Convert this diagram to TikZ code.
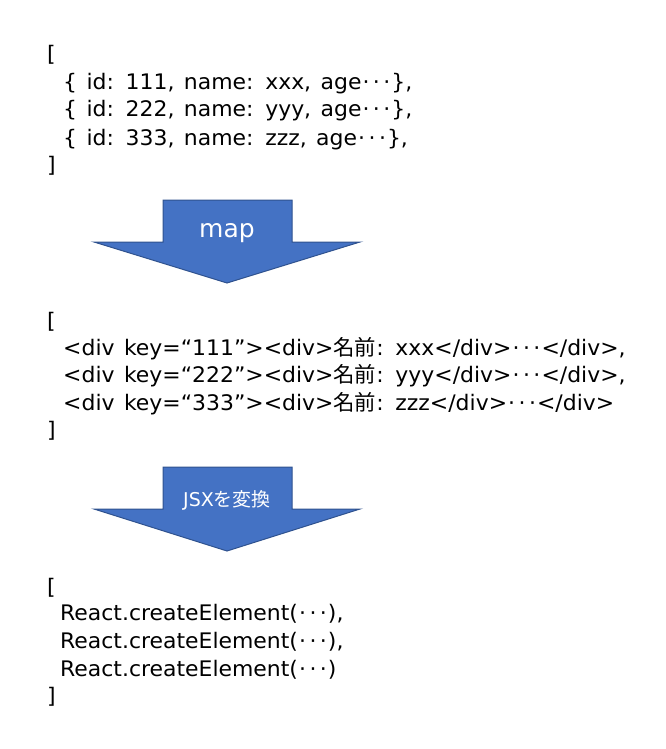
\documentclass[tikz,border=0pt]{standalone}
\usepackage{fontspec}
\setmainfont[WordSpace=1.35,FakeStretch=1.025]{DejaVu Sans}
\newfontfamily\jp{Noto Sans CJK JP}
\newfontfamily\lbl{DejaVu Sans}
\newcommand{\el}{\makebox[1.4em]{\kern0.05em·\hfill·\hfill·\kern0.05em}}
\definecolor{arrowfill}{HTML}{4472C4}
\definecolor{arrowline}{HTML}{2F528F}
\begin{document}
\begin{tikzpicture}[x=1pt,y=-1pt,
  code/.style={anchor=base west,inner sep=0pt,font=\fontsize{21.4}{25}\selectfont,text=black},
  bigarrow/.style={fill=arrowfill,draw=arrowline,line width=1pt,line join=miter},
  arrowlabel/.style={text=white,inner sep=0pt}]
\useasboundingbox (0,0) rectangle (665,749);
% block 1
\node[code] (a0) at (47,62) {[};
\node[code] (a1) at (63,90) {\{ id: 111, name: xxx, age\el\},};
\node[code] (a2) at (63,117) {\{ id: 222, name: yyy, age\el\},};
\node[code] (a3) at (63,145) {\{ id: 333, name: zzz, age\el\},};
\node[code] (a4) at (47,172) {]};
% arrow 1
\draw[bigarrow] (163,200) -- (292,200) -- (292,242) -- (360,242) -- (227,283) -- (94,242) -- (163,242) -- cycle;
\node[arrowlabel,font=\lbl\fontsize{25}{30}\selectfont] (m) at (227,233) {map};
% block 2
\node[code] (b0) at (47,328) {[};
\node[code] (b1) at (63,355) {<div key=“111”><div>{\jp 名前}: xxx</div>\el</div>,};
\node[code] (b2) at (63,382) {<div key=“222”><div>{\jp 名前}: yyy</div>\el</div>,};
\node[code] (b3) at (63,410) {<div key=“333”><div>{\jp 名前}: zzz</div>\el</div>};
\node[code] (b4) at (47,437) {]};
% arrow 2
\draw[bigarrow] (163,467) -- (292,467) -- (292,509) -- (360,509) -- (227,551) -- (94,509) -- (163,509) -- cycle;
\node[arrowlabel,font=\lbl\fontsize{19}{24}\selectfont] (j) at (227,500) {JSX{\jp を変換}};
% block 3
\node[code] (c0) at (47,594) {[};
\node[code] (c1) at (60,620) {React.createElement(\el),};
\node[code] (c2) at (60,648) {React.createElement(\el),};
\node[code] (c3) at (60,676) {React.createElement(\el)};
\node[code] (c4) at (47,703) {]};
\end{tikzpicture}
\end{document}
